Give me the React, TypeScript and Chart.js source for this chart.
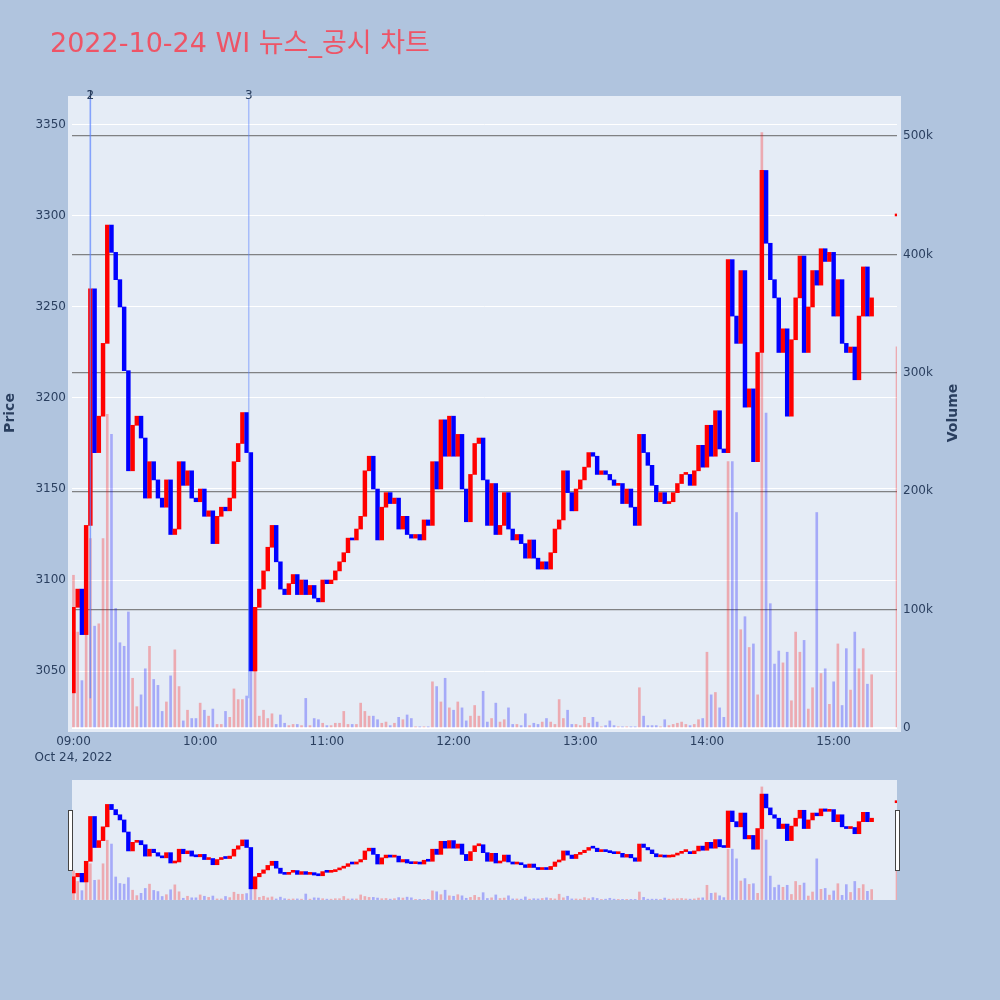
import React, { useEffect, useRef } from 'react';
import { Chart, registerables } from 'chart.js';

Chart.register(...registerables);

// ---------------- data ----------------
const TITLE = '2022-10-24 WI 뉴스_공시 차트';
const DATE_LABEL = 'Oct 24, 2022';
const SLOT_MINUTES = 2; // each candle = 2 minutes after 09:00
const FIRST_OPEN = 3038;

const CLOSES: number[] = [
  3085, 3095, 3070, 3130, 3260, 3170, 3190, 3230, 3295, 3280,
  3265, 3250, 3215, 3160, 3185, 3190, 3178, 3145, 3165, 3155,
  3145, 3140, 3155, 3125, 3128, 3165, 3152, 3160, 3145, 3143,
  3150, 3135, 3138, 3120, 3135, 3140, 3138, 3145, 3165, 3175,
  3192, 3170, 3050, 3085, 3095, 3105, 3118, 3130, 3110, 3095,
  3092, 3098, 3103, 3092, 3100, 3092, 3097, 3090, 3088, 3100,
  3098, 3100, 3105, 3110, 3115, 3123, 3122, 3128, 3135, 3160,
  3168, 3150, 3122, 3140, 3148, 3142, 3145, 3128, 3135, 3125,
  3123, 3125, 3122, 3133, 3130, 3165, 3150, 3188, 3168, 3190,
  3168, 3180, 3150, 3132, 3158, 3175, 3178, 3155, 3130, 3153,
  3125, 3130, 3148, 3128, 3122, 3125, 3120, 3112, 3122, 3112,
  3106, 3110, 3106, 3115, 3128, 3133, 3160, 3148, 3138, 3150,
  3155, 3162, 3170, 3168, 3158, 3160, 3158, 3155, 3152, 3153,
  3142, 3150, 3140, 3130, 3180, 3170, 3163, 3152, 3143, 3148,
  3142, 3143, 3148, 3153, 3158, 3158, 3152, 3160, 3174, 3162,
  3185, 3168, 3193, 3172, 3170, 3276, 3245, 3230, 3270, 3195,
  3205, 3165, 3225, 3325, 3285, 3265, 3255, 3225, 3238, 3190,
  3232, 3255, 3278, 3225, 3250, 3270, 3262, 3282, 3275, 3280,
  3245, 3265, 3230, 3225, 3228, 3210, 3245, 3272, 3245, 3255,
];

const VOLUMES_K: number[] = [
  129, 81, 40, 161, 160, 86, 88, 160, 265, 248,
  101, 72, 69, 98, 42, 18, 28, 50, 69, 41,
  36, 14, 22, 44, 66, 35, 6, 15, 8, 8,
  21, 15, 10, 16, 3, 3, 14, 9, 33, 24,
  24, 27, 63, 49, 10, 15, 8, 12, 3, 11,
  4, 2, 3, 3, 2, 25, 2, 8, 7, 4,
  2, 2, 4, 4, 14, 3, 3, 3, 21, 14,
  10, 10, 7, 4, 5, 2, 4, 9, 7, 11,
  8, 1, 1, 1, 1, 39, 35, 22, 42, 17,
  15, 22, 17, 6, 10, 19, 10, 31, 5, 8,
  21, 5, 7, 17, 3, 3, 2, 12, 2, 4,
  3, 5, 8, 5, 3, 24, 8, 15, 3, 3,
  2, 9, 4, 9, 5, 1, 2, 6, 2, 1,
  1, 1, 1, 1, 34, 10, 2, 2, 2, 1,
  7, 2, 3, 4, 5, 3, 2, 3, 7, 8,
  64, 28, 30, 17, 9, 225, 225, 182, 83, 94,
  68, 71, 28, 503, 266, 105, 54, 65, 55, 64,
  23, 81, 64, 74, 16, 34, 182, 46, 50, 20,
  39, 71, 19, 67, 32, 81, 50, 67, 37, 45,
];

const AUCTION_MINUTE = 390; // 15:30 closing auction
const AUCTION_PRICE = 3300;
const AUCTION_VOLUME_K = 322;

const EVENT_MINUTES = [8, 8, 83];
const EVENT_LABELS = ['1', '2', '3'];

const PRICE_TICKS = [3050, 3100, 3150, 3200, 3250, 3300, 3350];
const VOLUME_TICKS = [0, 100000, 200000, 300000, 400000, 500000];
const TIME_TICKS = [0, 60, 120, 180, 240, 300, 360];
const TIME_LABELS = ['09:00', '10:00', '11:00', '12:00', '13:00', '14:00', '15:00'];

// ---------------- style ----------------
const X_MIN = -0.7;
const X_MAX = 390;
const P_MIN = 3017.6;
const P_MAX = 3365.9;
const V_MIN = -1700;
const V_MAX = 533800;

const FONT = "'DejaVu Sans', 'Noto Sans CJK KR', sans-serif";
const TEXT = '#2a3f5f';
const UP = '#ff0000';
const DOWN = '#0000ff';
const UP_VOL = 'rgba(255,0,0,0.28)';
const DOWN_VOL = 'rgba(0,0,255,0.28)';

function buildData() {
  const minutes = CLOSES.map((_, i) => i * SLOT_MINUTES).concat([AUCTION_MINUTE]);
  const opens = [FIRST_OPEN].concat(CLOSES.slice(0, -1)).concat([AUCTION_PRICE]);
  const closes = CLOSES.concat([AUCTION_PRICE]);
  const vols = VOLUMES_K.concat([AUCTION_VOLUME_K]).map((v) => v * 1000);
  const up = closes.map((c, i) => c >= opens[i]);
  return { minutes, opens, closes, vols, up };
}

function buildConfig(slider: boolean): any {
  const d = buildData();
  const tickFont = { family: FONT, size: 12, lineHeight: 1.35 };

  const overlay = {
    id: 'overlay' + (slider ? 'S' : 'M'),
    beforeDraw(chart: any) {
      if (slider) return;
      const { ctx, chartArea: a } = chart;
      ctx.save();
      ctx.fillStyle = '#e5ecf6';
      ctx.fillRect(a.left - 4, a.top, a.right - a.left + 8, a.bottom - a.top + 2);
      ctx.restore();
    },
    afterDraw(chart: any) {
      if (slider) return;
      const { ctx, chartArea: a } = chart;
      const xs = chart.scales.x;
      ctx.save();
      // event lines
      EVENT_MINUTES.forEach((m, k) => {
        const px = xs.getPixelForValue(m);
        ctx.strokeStyle = 'rgba(90,130,255,0.45)';
        ctx.lineWidth = 1.5;
        ctx.beginPath();
        ctx.moveTo(px, a.top + 2);
        ctx.lineTo(px, a.bottom - 0.05 * (a.bottom - a.top));
        ctx.stroke();
        ctx.fillStyle = TEXT;
        ctx.font = `12px ${FONT}`;
        ctx.textAlign = 'center';
        ctx.textBaseline = 'middle';
        ctx.fillText(EVENT_LABELS[k], px, a.top);
      });
      // title
      ctx.fillStyle = 'rgb(238,84,102)';
      ctx.font = `27px ${FONT}`;
      ctx.textAlign = 'left';
      ctx.textBaseline = 'alphabetic';
      ctx.fillText(TITLE, 50, 52);
      // axis titles
      ctx.fillStyle = TEXT;
      ctx.font = `bold 14px ${FONT}`;
      ctx.textAlign = 'center';
      ctx.textBaseline = 'middle';
      const midY = (a.top + a.bottom) / 2;
      ctx.save();
      ctx.translate(10, midY);
      ctx.rotate(-Math.PI / 2);
      ctx.fillText('Price', 0, 0);
      ctx.restore();
      ctx.save();
      ctx.translate(953, midY);
      ctx.rotate(-Math.PI / 2);
      ctx.fillText('Volume', 0, 0);
      ctx.restore();
      ctx.restore();
    },
  };

  const fixSize = (fn: (s: any) => void) => (slider ? undefined : fn);

  return {
    type: 'bar',
    data: {
      datasets: [
        {
          label: 'Volume',
          yAxisID: 'yv',
          order: 2,
          grouped: false,
          barThickness: 2,
          borderWidth: 0,
          data: d.minutes.map((m, i) => ({ x: m, y: d.vols[i] })),
          backgroundColor: d.up.map((u) => (u ? UP_VOL : DOWN_VOL)),
        },
        {
          label: 'Price',
          yAxisID: 'yp',
          order: 1,
          grouped: false,
          barThickness: 3.8,
          minBarLength: 2,
          borderWidth: 0,
          data: d.minutes.map((m, i) => ({ x: m, y: [d.opens[i], d.closes[i]] })),
          backgroundColor: d.up.map((u) => (u ? UP : DOWN)),
        },
      ],
    },
    options: {
      animation: false,
      responsive: false,
      events: [],
      layout: { padding: slider ? 0 : { top: 96, left: 0, right: 0, bottom: 0 } },
      plugins: { legend: { display: false }, tooltip: { enabled: false }, title: { display: false } },
      scales: {
        x: {
          type: 'linear',
          min: X_MIN,
          max: X_MAX,
          offset: false,
          display: !slider,
          grid: { display: false, drawTicks: false },
          border: { display: false },
          afterBuildTicks: (s: any) => {
            s.ticks = TIME_TICKS.map((v) => ({ value: v }));
          },
          afterFit: fixSize((s: any) => {
            s.height = 40;
          }),
          ticks: {
            padding: 4,
            maxRotation: 0,
            autoSkip: false,
            color: TEXT,
            font: tickFont,
            callback: (v: number) => {
              const idx = TIME_TICKS.indexOf(v);
              if (idx === 0) return [TIME_LABELS[0], DATE_LABEL];
              return TIME_LABELS[idx];
            },
          },
        },
        yp: {
          type: 'linear',
          position: 'left',
          min: P_MIN,
          max: P_MAX,
          display: !slider,
          grid: { color: '#ffffff', lineWidth: 1, drawTicks: false },
          border: { display: false },
          afterBuildTicks: (s: any) => {
            s.ticks = PRICE_TICKS.map((v) => ({ value: v }));
          },
          afterFit: fixSize((s: any) => {
            s.width = 72;
          }),
          ticks: { padding: 6, color: TEXT, font: tickFont, callback: (v: number) => String(v) },
        },
        yv: {
          type: 'linear',
          position: 'right',
          min: V_MIN,
          max: V_MAX,
          display: !slider,
          grid: {
            drawTicks: false,
            color: (c: any) => (c.tick && c.tick.value === 0 ? '#ffffff' : 'rgba(110,110,110,0.85)'),
            lineWidth: (c: any) => (c.tick && c.tick.value === 0 ? 2 : 1.2),
          },
          border: { display: false },
          afterBuildTicks: (s: any) => {
            s.ticks = VOLUME_TICKS.map((v) => ({ value: v }));
          },
          afterFit: fixSize((s: any) => {
            s.width = 103;
          }),
          ticks: {
            padding: 6,
            color: TEXT,
            font: tickFont,
            callback: (v: number) => (v === 0 ? '0' : `${v / 1000}k`),
          },
        },
      },
    },
    plugins: [overlay],
  };
}

export default function App() {
  const mainRef = useRef<HTMLCanvasElement>(null);
  const sliderRef = useRef<HTMLCanvasElement>(null);

  useEffect(() => {
    const main = new Chart(mainRef.current as HTMLCanvasElement, buildConfig(false));
    const slider = new Chart(sliderRef.current as HTMLCanvasElement, buildConfig(true));
    return () => {
      main.destroy();
      slider.destroy();
    };
  }, []);

  const handle: React.CSSProperties = {
    position: 'absolute',
    top: 810,
    width: 3,
    height: 59,
    background: '#ffffff',
    border: '1px solid #444444',
  };

  return (
    <div
      style={{
        position: 'absolute',
        left: 0,
        top: 0,
        width: 1000,
        height: 1000,
        background: '#b0c4de',
        overflow: 'hidden',
      }}
    >
      <canvas
        ref={mainRef}
        width={1000}
        height={770}
        style={{ position: 'absolute', left: 0, top: 0, width: 1000, height: 770 }}
      />
      <div style={{ position: 'absolute', left: 72, top: 780, width: 825, height: 120, background: '#e5ecf6' }}>
        <canvas ref={sliderRef} width={825} height={120} style={{ display: 'block', width: 825, height: 120 }} />
      </div>
      <div style={{ ...handle, left: 68 }} />
      <div style={{ ...handle, left: 895 }} />
    </div>
  );
}
